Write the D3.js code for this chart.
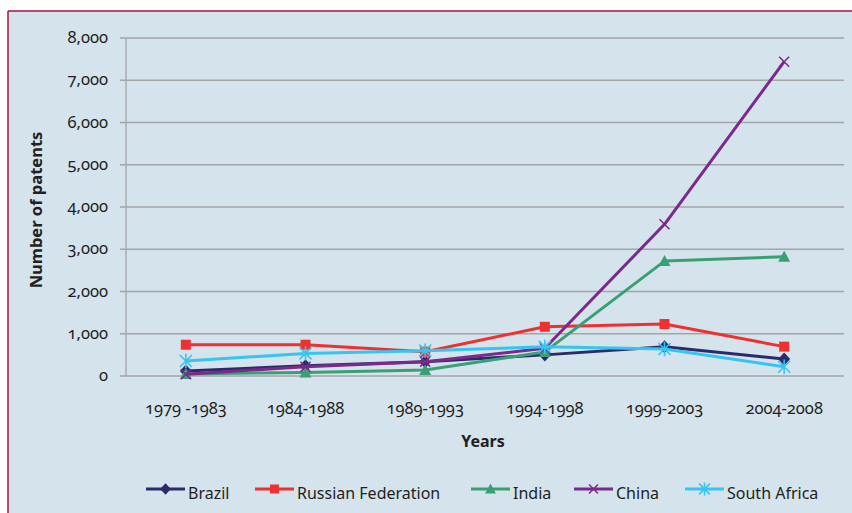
<!DOCTYPE html>
<html>
<head>
<meta charset="utf-8">
<script src="https://cdn.jsdelivr.net/npm/d3@7"></script>
<style>
  html, body { margin: 0; padding: 0; background: #ffffff; }
  svg text { font-family: "Noto Sans", "Open Sans", sans-serif; font-feature-settings: "onum" 1; fill: #231f20; }
</style>
</head>
<body>
<svg id="chart" width="852" height="513"></svg>
<script>
// Periods on the x axis
const periods = ["1979 -1983", "1984-1988", "1989-1993", "1994-1998", "1999-2003", "2004-2008"];
// Patent counts per country and period
const brazil  = [120, 240, 340, 500, 690, 400];
const russia  = [740, 740, 575, 1165, 1230, 695];
const india   = [50, 85, 140, 570, 2720, 2825];
const china   = [40, 220, 340, 655, 3590, 7440];
const southAfrica = [355, 535, 600, 690, 640, 220];
const yTicks = [0, 1000, 2000, 3000, 4000, 5000, 6000, 7000, 8000];

const series = [
  { name: "Brazil", values: brazil, color: "#2d2a6b", marker: "diamond" },
  { name: "Russian Federation", values: russia, color: "#ee3130", marker: "square" },
  { name: "India", values: india, color: "#3aa073", marker: "triangle" },
  { name: "China", values: china, color: "#7b2a8c", marker: "x" },
  { name: "South Africa", values: southAfrica, color: "#35c5f0", marker: "star" }
];

const svg = d3.select("#chart");

// Panel background with a thin crimson rule on the top and left edges
svg.append("rect").attr("x", 8).attr("y", 11).attr("width", 844).attr("height", 502).attr("fill", "#d4e3ec");
svg.append("line").attr("x1", 8).attr("x2", 852).attr("y1", 11).attr("y2", 11).attr("stroke", "#a8163f").attr("stroke-width", 1.5);
svg.append("line").attr("x1", 8).attr("x2", 8).attr("y1", 11).attr("y2", 513).attr("stroke", "#a8163f").attr("stroke-width", 1.5);

const plotLeft = 126, plotRight = 844, plotTop = 38, plotBottom = 376;

const x = d3.scaleBand().domain(periods).range([plotLeft, plotRight]);
const y = d3.scaleLinear().domain([0, 8000]).range([plotBottom, plotTop]);
const cx = d => x(d) + x.bandwidth() / 2;

// Horizontal gridlines (with short tick stubs left of the axis)
svg.append("g").selectAll("line").data(yTicks).join("line")
  .attr("x1", plotLeft - 6).attr("x2", plotRight)
  .attr("y1", d => y(d)).attr("y2", d => y(d))
  .attr("stroke", "#a3a5a8").attr("stroke-width", 1.3);

// Vertical axis line
svg.append("line").attr("x1", plotLeft).attr("x2", plotLeft).attr("y1", plotTop).attr("y2", plotBottom)
  .attr("stroke", "#a3a5a8").attr("stroke-width", 1.3);

// Y tick labels
const fmt = d3.format(",");
svg.append("g").selectAll("text").data(yTicks).join("text")
  .attr("x", 108).attr("y", d => y(d) + 5)
  .attr("text-anchor", "end")
  .attr("font-size", 16.5)
  .text(d => fmt(d));

// X tick labels
svg.append("g").selectAll("text").data(periods).join("text")
  .attr("x", d => cx(d)).attr("y", 414)
  .attr("text-anchor", "middle")
  .attr("font-size", 16.5)
  .text(d => d);

// Axis titles
svg.append("text").attr("x", 483).attr("y", 447).attr("text-anchor", "middle")
  .attr("font-size", 16).attr("font-weight", "bold").text("Years");
svg.append("text").attr("transform", "translate(42,210) rotate(-90)").attr("text-anchor", "middle")
  .attr("font-size", 16.5).attr("font-weight", "bold").text("Number of patents");

// Marker shapes
function drawMarker(g, type, color, px, py, s) {
  s = s || 1;
  if (type === "diamond") {
    g.append("path").attr("d", `M${px},${py - 6.5 * s}L${px + 6 * s},${py}L${px},${py + 6.5 * s}L${px - 6 * s},${py}Z`).attr("fill", color);
  } else if (type === "square") {
    g.append("rect").attr("x", px - 5 * s).attr("y", py - 5 * s).attr("width", 10 * s).attr("height", 10 * s).attr("fill", color);
  } else if (type === "triangle") {
    g.append("path").attr("d", `M${px},${py - 6 * s}L${px + 6 * s},${py + 5 * s}L${px - 6 * s},${py + 5 * s}Z`).attr("fill", color);
  } else if (type === "x") {
    const r = 5 * s;
    g.append("path").attr("d", `M${px - r},${py - r}L${px + r},${py + r}M${px - r},${py + r}L${px + r},${py - r}`)
      .attr("stroke", color).attr("stroke-width", 1.5).attr("fill", "none");
  } else if (type === "star") {
    const r = 6 * s;
    g.append("path").attr("d", `M${px - r},${py - r}L${px + r},${py + r}M${px - r},${py + r}L${px + r},${py - r}M${px},${py - r * 1.2}L${px},${py + r * 1.2}`)
      .attr("stroke", color).attr("stroke-width", 1.6).attr("fill", "none");
  }
}

const line = d3.line().x((d, i) => cx(periods[i])).y(d => y(d));

series.forEach(s => {
  const g = svg.append("g");
  g.append("path").attr("d", line(s.values)).attr("fill", "none")
    .attr("stroke", s.color).attr("stroke-width", 3).attr("stroke-linejoin", "round");
  s.values.forEach((v, i) => drawMarker(g, s.marker, s.color, cx(periods[i]), y(v)));
});

// Legend
const legendX = [146, 255, 471, 574, 685];
const legendY = 489;
series.forEach((s, i) => {
  const g = svg.append("g");
  const x0 = legendX[i];
  g.append("line").attr("x1", x0).attr("x2", x0 + 39).attr("y1", legendY).attr("y2", legendY)
    .attr("stroke", s.color).attr("stroke-width", 3);
  drawMarker(g, s.marker, s.color, x0 + 19.5, legendY, 0.9);
  g.append("text").attr("x", x0 + 42).attr("y", legendY + 10).attr("font-size", 16).text(s.name);
});
</script>
</body>
</html>
